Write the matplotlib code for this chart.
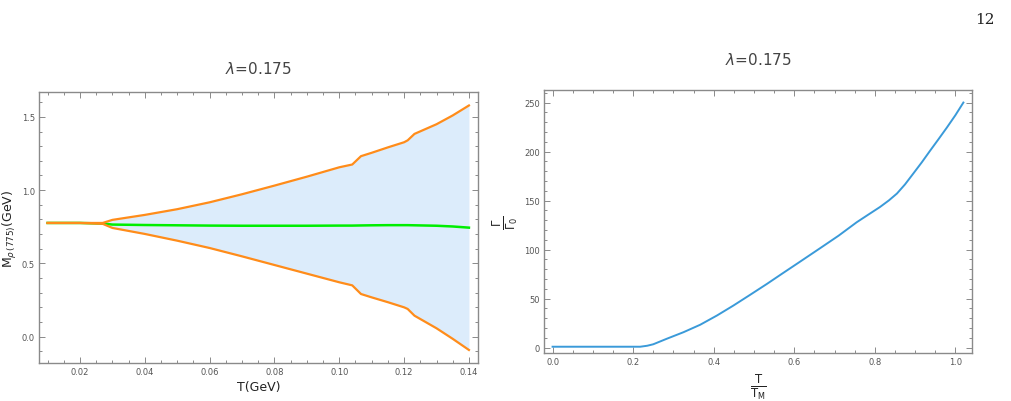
import matplotlib
matplotlib.use("Agg")
import matplotlib.pyplot as plt
import numpy as np
from matplotlib.ticker import MultipleLocator

# ---- data: left panel (rho mass vs T) ----
T_gev = [0.010, 0.020, 0.027, 0.030, 0.040, 0.050, 0.060, 0.070, 0.080, 0.090,
         0.100, 0.104, 0.1067, 0.110, 0.115, 0.120, 0.1211, 0.1232, 0.130, 0.135, 0.140]
m_upper = [0.776, 0.776, 0.776, 0.797, 0.831, 0.870, 0.917, 0.972, 1.031, 1.092,
           1.156, 1.175, 1.232, 1.255, 1.292, 1.327, 1.340, 1.384, 1.450, 1.510, 1.578]
m_lower = [0.776, 0.776, 0.770, 0.742, 0.701, 0.655, 0.605, 0.548, 0.489, 0.430,
           0.371, 0.350, 0.291, 0.268, 0.235, 0.200, 0.189, 0.143, 0.057, -0.015, -0.091]
m_center = [0.776, 0.776, 0.772, 0.765, 0.762, 0.760, 0.758, 0.757, 0.757, 0.757,
            0.758, 0.758, 0.759, 0.760, 0.761, 0.761, 0.761, 0.760, 0.757, 0.752, 0.744]

# ---- data: right panel (width ratio vs T/T_M) ----
t_ratio = [0.0, 0.10, 0.2176, 0.235, 0.25, 0.284, 0.325, 0.3665, 0.408, 0.449, 0.49,
           0.532, 0.571, 0.610, 0.664, 0.71, 0.755, 0.785, 0.813, 0.835, 0.855,
           0.875, 0.896, 0.917, 0.937, 0.958, 0.979, 1.000, 1.020]
gamma_ratio = [1.0, 1.0, 1.0, 2.0, 3.5, 9.2, 15.8, 23.4, 32.8, 43.0, 53.8,
               65.0, 75.8, 86.5, 101.4, 114.2, 127.9, 136.0, 143.5, 150.2, 157.2,
               166.5, 177.8, 189.2, 200.7, 212.5, 224.5, 237.0, 250.0]

ORANGE = "#ff8c1a"
GREEN = "#00ee00"
FILL = "#dcecfb"
BLUE = "#3a9ad9"
FRAME = "#8a8a8a"
TICKLBL = "#555555"

plt.rcParams['font.family'] = ['DejaVu Sans']
plt.rcParams['mathtext.fontset'] = 'dejavusans'

fig = plt.figure(figsize=(10.11, 4.02), dpi=100)
W, H = 1011, 402

def add_axes(l, r, t, b):
    return fig.add_axes([l / W, 1 - b / H, (r - l) / W, (b - t) / H])

def style(ax, xmaj, xmin, ymaj, ymin):
    for s in ax.spines.values():
        s.set_color(FRAME)
        s.set_linewidth(1.0)
    ax.xaxis.set_major_locator(MultipleLocator(xmaj))
    ax.xaxis.set_minor_locator(MultipleLocator(xmin))
    ax.yaxis.set_major_locator(MultipleLocator(ymaj))
    ax.yaxis.set_minor_locator(MultipleLocator(ymin))
    ax.tick_params(which='both', direction='in', top=True, right=True,
                   color=FRAME, labelsize=6, labelcolor=TICKLBL, width=0.7)
    ax.tick_params(which='major', length=4, pad=3)
    ax.tick_params(which='minor', length=2)

# left panel
ax1 = add_axes(39, 478, 93, 364)
ax1.fill_between(T_gev, m_lower, m_upper, color=FILL, lw=0)
ax1.plot(T_gev, m_center, color=GREEN, lw=1.8, zorder=2)
ax1.plot(T_gev, m_upper, color=ORANGE, lw=1.6, zorder=3)
ax1.plot(T_gev, m_lower, color=ORANGE, lw=1.6, zorder=3)
ax1.set_xlim(0.00735, 0.1428)
ax1.set_ylim(-0.18, 1.67)
style(ax1, 0.02, 0.005, 0.5, 0.1)
ax1.xaxis.set_major_formatter(plt.FuncFormatter(lambda v, p: f"{v:.2f}"))
ax1.yaxis.set_major_formatter(plt.FuncFormatter(lambda v, p: f"{v:.1f}"))
ax1.set_xlabel("T(GeV)", fontsize=9, color="#222222", labelpad=3)
ax1.set_ylabel(r"M$_{\rho\,(775)}$(GeV)", fontsize=9, color="#222222")
ax1.yaxis.set_label_coords(-0.045, 0.5)
ax1.set_title(r"$\lambda$=0.175", fontsize=11, color="#444444", pad=14)

# right panel
ax2 = add_axes(544, 972, 91, 354)
ax2.plot(t_ratio, gamma_ratio, color=BLUE, lw=1.4)
ax2.set_xlim(-0.0213, 1.0414)
ax2.set_ylim(-5.4, 262.8)
style(ax2, 0.2, 0.05, 50, 10)
ax2.xaxis.set_major_formatter(plt.FuncFormatter(lambda v, p: f"{v:.1f}"))
ax2.yaxis.set_major_formatter(plt.FuncFormatter(lambda v, p: f"{v:.0f}"))
ax2.set_xlabel(r"$\frac{\mathrm{T}}{\mathrm{T_M}}$", fontsize=12, color="#222222", labelpad=4)
ax2.set_ylabel(r"$\frac{\Gamma}{\Gamma_0}$", fontsize=12, color="#222222", labelpad=3)
ax2.set_title(r"$\lambda$=0.175", fontsize=11, color="#444444", pad=19)

fig.text(985 / W, 1 - 20 / H, "12", fontsize=11, family="DejaVu Serif",
         ha="center", va="center", color="#222222")

fig.savefig("out.png", dpi=100)
